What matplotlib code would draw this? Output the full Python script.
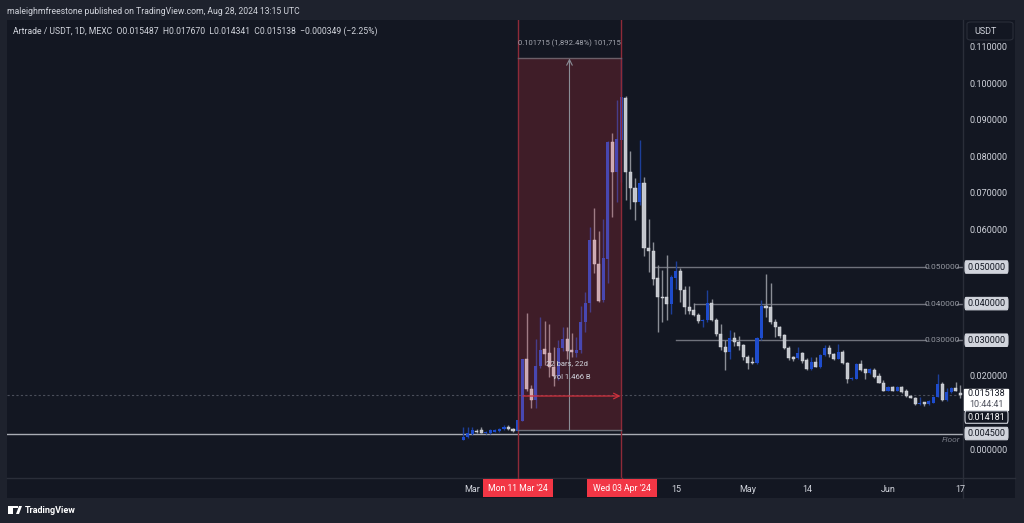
import numpy as np
import pandas as pd
import matplotlib
matplotlib.use("Agg")
import matplotlib.pyplot as plt
import matplotlib.transforms as mtransforms
from matplotlib.patches import Rectangle, FancyBboxPatch
from matplotlib.lines import Line2D

plt.rcParams['font.family'] = ['Roboto', 'DejaVu Sans']

# daily candles, ART/USDT on MEXC
dates = pd.date_range('2024-02-28', '2024-06-17', freq='D')
opens = [.0027, .0035, .0044, .0053, .0055, .0046, .0047, .0050, .0051, .0057, .0064, .0057,
         .0051, .0080, .0248, .0167, .0137, .0230, .0275, .0266, .0228, .0202, .0278, .0303,
         .0273, .0266, .0272, .0351, .0401, .0574, .0508, .0410, .0522,
         .0841, .0760, .0847, .0961, .0760, .0715, .0678, .0729, .0553, .0544, .0469, .0419,
         .0417, .0398, .0471, .0489, .0437, .0392, .0383, .0369, .0353, .0355, .0402, .0355,
         .0317, .0282, .0269, .0307, .0294, .0286,
         .0255, .0239, .0237, .0305, .0393, .0390, .0351, .0335, .0314, .0278, .0251, .0251,
         .0266, .0246, .0221, .0240, .0228, .0260, .0278, .0262, .0250, .0269, .0237, .0193,
         .0195, .0235, .0220, .0211, .0219, .0202, .0184,
         .0162, .0171, .0162, .0171, .0162, .0148, .0143, .0126, .0130, .0126, .0129, .0146,
         .0180, .0137, .0159, .0169, .015487]
highs = [.0064, .0062, .0062, .0058, .0064, .0052, .0058, .0058, .0060, .0068, .0068, .0060,
         .0083, .0250, .0374, .0178, .0302, .0363, .0352, .0344, .0282, .0300, .0337, .0337,
         .0320, .0310, .0393, .0433, .0610, .0660, .0599, .0630, .0845,
         .0865, .0956, .1070, .0968, .0817, .0744, .0847, .0747, .0631, .0569, .0505, .0492,
         .0533, .0478, .0516, .0496, .0448, .0448, .0402, .0374, .0358, .0437, .0412, .0360,
         .0344, .0300, .0328, .0323, .0312, .0291,
         .0260, .0253, .0310, .0410, .0481, .0455, .0358, .0340, .0318, .0285, .0257, .0282,
         .0269, .0251, .0255, .0255, .0263, .0287, .0287, .0265, .0290, .0272, .0240, .0200,
         .0238, .0246, .0222, .0225, .0224, .0210, .0190,
         .0174, .0175, .0175, .0175, .0166, .0150, .0146, .0146, .0132, .0136, .0148, .0208,
         .0186, .0170, .0172, .0187, .01767]
lows = [.0026, .0033, .0042, .0047, .0046, .0044, .0045, .0048, .0049, .0055, .0055, .0050,
        .0050, .0078, .0160, .0114, .0114, .0225, .0232, .0200, .0174, .0190, .0270, .0250,
        .0255, .0255, .0265, .0323, .0378, .0483, .0405, .0405, .0455,
        .0637, .0678, .0733, .0683, .0658, .0628, .0670, .0531, .0487, .0451, .0323, .0349,
        .0355, .0373, .0440, .0405, .0373, .0372, .0365, .0348, .0337, .0350, .0352, .0311,
        .0273, .0219, .0250, .0285, .0273, .0246,
        .0220, .0235, .0235, .0300, .0364, .0345, .0310, .0305, .0275, .0245, .0242, .0248,
        .0239, .0218, .0218, .0226, .0225, .0258, .0255, .0245, .0248, .0235, .0184, .0190,
        .0193, .0215, .0193, .0208, .0197, .0182, .0160,
        .0160, .0160, .0160, .0157, .0146, .0141, .0124, .0124, .0120, .0124, .0128, .0144,
        .0135, .0135, .0157, .0160, .014341]
closes = [.0036, .0047, .0055, .0049, .0047, .0050, .0055, .0055, .0058, .0062, .0057, .0051,
          .0082, .0248, .0166, .0138, .0230, .0273, .0262, .0228, .0202, .0278, .0303, .0271,
          .0268, .0272, .0351, .0402, .0574, .0508, .0408, .0525, .0841,
          .0760, .0851, .0965, .0760, .0715, .0678, .0729, .0553, .0544, .0467, .0417, .0416,
          .0398, .0473, .0489, .0437, .0392, .0380, .0369, .0353, .0356, .0402, .0355, .0317,
          .0281, .0269, .0307, .0294, .0284, .0253,
          .0239, .0237, .0305, .0393, .0387, .0351, .0335, .0311, .0278, .0251, .0250, .0266,
          .0244, .0221, .0240, .0228, .0260, .0278, .0262, .0250, .0269, .0237, .0193, .0196,
          .0235, .0219, .0211, .0220, .0200, .0184, .0162,
          .0171, .0162, .0171, .0159, .0148, .0143, .0126, .0129, .0125, .0134, .0146, .0180,
          .0137, .0159, .0169, .0162, .015138]

hlines = [0.05, 0.04, 0.03]
hline_start = ['2024-04-10', '2024-04-19', '2024-04-15']
floor_price = 0.0045
last_price = 0.015138
price_ticks = [0.0, 0.02, 0.06, 0.07, 0.08, 0.09, 0.10, 0.11]
time_ticks = [('2024-03-01', 'Mar'), ('2024-04-15', '15'), ('2024-05-01', 'May'),
              ('2024-05-14', '14'), ('2024-06-01', 'Jun'), ('2024-06-17', '17')]
range_start, range_end = '2024-03-11', '2024-04-03'
range_low, range_high = 0.0055, 0.107

W, H = 1024, 523
OUTER = '#1e222d'
BG = '#131722'
GRID = '#2a2e39'
TXT = '#d1d4dc'
UP, UP_W = '#1e4ccc', '#1d3f99'
DN, DN_W = '#c3c6cc', '#8b8e96'

t0 = pd.Timestamp('2024-03-01')
def dnum(d):
    return (pd.Timestamp(d) - t0).days

def px(x, y):
    return x / W, 1 - y / H

fig = plt.figure(figsize=(10.24, 5.23), dpi=100, facecolor=OUTER)
# inner panel (chart + axes)
fig.patches.append(Rectangle(px(7, 498), (1015 - 7) / W, (498 - 20) / H,
                             transform=fig.transFigure, facecolor=BG, edgecolor='none', zorder=-5))
ax = fig.add_axes([7 / W, (H - 478) / H, (963 - 7) / W, (478 - 20) / H])
ax.set_facecolor(BG)
for s in ax.spines.values():
    s.set_visible(False)
ax.set_xticks([])
ax.set_yticks([])
ax.set_xlim(-103, 108.6)
ax.set_ylim(-0.00765, 0.1175)

x = (dates - t0).days.values
o = np.array(opens); h = np.array(highs); l = np.array(lows); c = np.array(closes)
up = c >= o

# candles
ax.vlines(x[up], l[up], h[up], color=UP_W, lw=1, zorder=3)
ax.vlines(x[~up], l[~up], h[~up], color=DN_W, lw=1, zorder=3)
body = np.maximum(np.abs(c - o), 0.0003)
ax.bar(x[up], body[up], bottom=np.minimum(o, c)[up], width=0.68, color=UP, zorder=4)
ax.bar(x[~up], body[~up], bottom=np.minimum(o, c)[~up], width=0.68, color=DN,
       edgecolor='#dfe1e6', linewidth=0.3, zorder=4)

# horizontal levels
for lvl, st in zip(hlines, hline_start):
    ax.plot([dnum(st), 100.5], [lvl, lvl], color='#6f727c', lw=1, zorder=2)
    ax.plot([107.2, 108.6], [lvl, lvl], color='#6f727c', lw=1, zorder=2)
    ax.text(104, lvl, '%.6f' % lvl, color='#9598a1', fontsize=6, ha='center', va='center', zorder=2)

# floor + current price line
ax.axhline(floor_price, color='#a9acb4', lw=1, zorder=2)
ax.text(108, floor_price - 0.0017, 'Floor', color='#787b86', fontsize=6, style='italic',
        ha='right', va='center')
ax.axhline(last_price, color='#4a4e5a', lw=0.8, ls=(0, (2, 2)), zorder=1)

# date range / price range measurement
xs, xe = dnum(range_start), dnum(range_end)
ax.axvline(xs, color='#8e2a38', lw=1, zorder=6)
ax.axvline(xe, color='#8e2a38', lw=1, zorder=6)
ax.add_patch(Rectangle((xs, range_low), xe - xs, range_high - range_low,
                       facecolor='#f23645', alpha=0.2, edgecolor='none', zorder=5))
ax.plot([xs, xe], [range_high, range_high], color='#6b5f68', lw=1, zorder=6)
ax.plot([xs, xe], [range_low, range_low], color='#6d6f78', lw=1, zorder=6)
xm = (xs + xe) / 2
ax.annotate('', xy=(xm, range_high), xytext=(xm, range_low),
            arrowprops=dict(arrowstyle='->', color='#8a8d96', lw=0.8, shrinkA=0, shrinkB=0), zorder=6)
ax.annotate('', xy=(xe - 0.2, 0.01475), xytext=(xs + 1.2, 0.01475),
            arrowprops=dict(arrowstyle='->', color='#d0303c', lw=0.9, shrinkA=0, shrinkB=0), zorder=6)
ax.text(xm, 0.1113, '0.101715 (1,892.48%) 101,715', color='#a3a6af', fontsize=5.5,
        ha='center', va='center', zorder=7)
ax.text(xm - 0.6, 0.0238, '22 bars, 22d', color=TXT, fontsize=5.5, ha='center', va='center', zorder=7)
ax.text(xm + 0.5, 0.0199, 'vol 1.466 B', color=TXT, fontsize=5.5, ha='center', va='center', zorder=7)

# price axis
fig.add_artist(Line2D([963 / W, 963 / W], [(H - 498) / H, (H - 20) / H], color=GRID, lw=1))
fig.add_artist(Line2D([7 / W, 1015 / W], [(H - 478) / H, (H - 478) / H], color=GRID, lw=1))
yt = mtransforms.blended_transform_factory(fig.transFigure, ax.transData)
for p in price_ticks:
    fig.text(970 / W, p, '%.6f' % p, transform=yt, color=TXT, fontsize=6.5, ha='left', va='center')

def tag(p, text, fc, tc, ec=None, yoff=0.0):
    fig.patches.append(FancyBboxPatch((965 / W, p + yoff - 0.0017), 43 / W, 0.0034,
                                      boxstyle='round,pad=0,rounding_size=0.001', transform=yt,
                                      facecolor=fc, edgecolor=ec or fc, lw=0.8, zorder=5))
    fig.text(986.5 / W, p + yoff, text, transform=yt, color=tc, fontsize=6.5,
             ha='center', va='center', zorder=6)

for lvl in hlines:
    tag(lvl, '%.6f' % lvl, '#d1d4dc', '#131722')
tag(floor_price, '0.004500', '#d1d4dc', '#131722')
fig.patches.append(Rectangle((964 / W, 0.0110), 44 / W, 0.0058, transform=yt,
                             facecolor='#ffffff', edgecolor='#ffffff', zorder=5))
fig.text(986.5 / W, 0.0155, '0.015138', transform=yt, color='#131722', fontsize=6.5,
         ha='center', va='center', zorder=6)
fig.text(986.5 / W, 0.01257, '10:44:41', transform=yt, color='#50535e', fontsize=6.5,
         ha='center', va='center', zorder=6)
tag(0.0090, '0.014181', '#131722', '#ffffff', ec='#d1d4dc')

# USDT unit box
fig.patches.append(FancyBboxPatch(px(967, 40), 46 / W, 18 / H,
                                  boxstyle='round,pad=0,rounding_size=0.004',
                                  transform=fig.transFigure, facecolor=BG, edgecolor=GRID, lw=0.8))
fig.text(*px(974, 31), 'USDT', color=TXT, fontsize=6.5, va='center')

# time axis
for d, lab in time_ticks:
    xp = 472.5 + 4.52 * dnum(d)
    fig.text(*px(xp, 489), lab, color=TXT, fontsize=6.5, ha='center', va='center')
for d, lab in [(range_start, "Mon 11 Mar '24"), (range_end, "Wed 03 Apr '24")]:
    xp = 472.5 + 4.52 * dnum(d)
    fig.add_artist(Line2D([xp / W, xp / W], [(H - 478) / H, (H - 480) / H], color='#8e2a38', lw=1))
    fig.patches.append(Rectangle(px(xp - 35, 497), 70 / W, 18 / H, transform=fig.transFigure,
                                 facecolor='#f23645', edgecolor='none', zorder=5))
    fig.text(*px(xp, 488.5), lab, color='white', fontsize=6.2, ha='center', va='center', zorder=6)

# header & title
fig.text(*px(7, 11), 'maleighmfreestone published on TradingView.com, Aug 28, 2024 13:15 UTC',
         color='#d1d4dc', fontsize=6.2, va='center')
fig.text(*px(13, 31), 'Artrade / USDT, 1D, MEXC  O0.015487  H0.017670  L0.014341  C0.015138  \u22120.000349 (\u22122.25%)',
         color=TXT, fontsize=6.2, va='center')

# footer logo
fig.patches.append(Rectangle(px(8, 514), 5 / W, 6 / H, transform=fig.transFigure,
                             facecolor='white', edgecolor='none'))
fig.patches.append(Rectangle(px(8, 508), 10 / W, 2 / H, transform=fig.transFigure,
                             facecolor='white', edgecolor='none'))
fig.patches.append(plt.Polygon([px(16, 514), px(19, 506), px(22, 506), px(19, 514)],
                               closed=True, transform=fig.transFigure, facecolor='white'))
fig.text(*px(25, 510.5), 'TradingView', color='white', fontsize=6.5, weight='bold', va='center')

fig.savefig('out.png', dpi=100, facecolor=OUTER)
